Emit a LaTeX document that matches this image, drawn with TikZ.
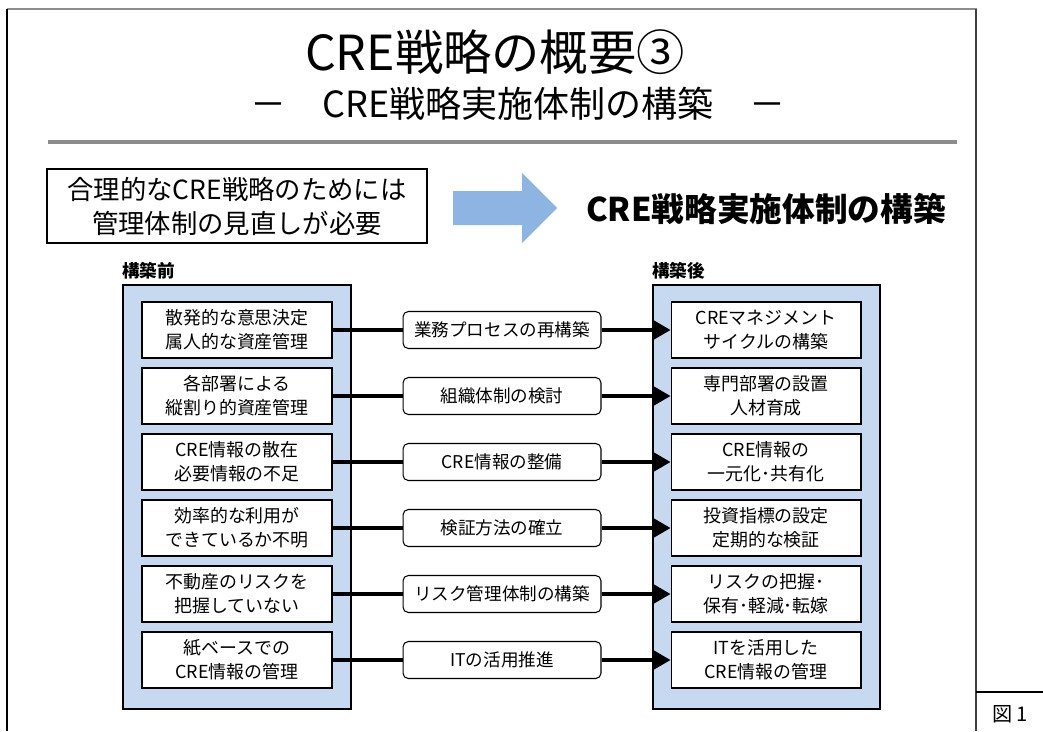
\documentclass[tikz,border=0pt]{standalone}
\usepackage{fontspec}
\setmainfont{Noto Sans CJK JP}
\usetikzlibrary{arrows.meta}
\definecolor{panelblue}{HTML}{C6D9F1}
\definecolor{arrowblue}{HTML}{8DB4E2}
\tikzset{
	leftbox/.style={draw, fill=white, line width=0.6pt, minimum width=3.8cm, minimum height=1.12cm, inner sep=0pt, align=center, font=\fontsize{10.2}{13.6}\selectfont},
	midbox/.style={draw, fill=white, rounded corners=3pt, line width=0.6pt, minimum width=3.96cm, minimum height=0.74cm, inner sep=0pt, font=\fontsize{10}{12}\selectfont},
	conn/.style={line width=1.9pt},
	connarrow/.style={line width=1.9pt, -{Triangle[length=0.36cm, width=0.4cm]}}
}

\begin{document}
\begin{tikzpicture}[x=0.02cm, y=-0.02cm]
		%%%%% START %%%%%
		\useasboundingbox (0, 0) rectangle (1043, 731);
		
		% frame
		\draw[line width=1.4pt, color=black!45] (7, 9) -- (977, 9);
		\draw[line width=1.2pt] (7, 9) -- (7, 731);
		\draw[line width=1pt, color=black!75] (976, 9) -- (976, 731);
		\draw[line width=0.7pt] (976, 692) -- (1043, 692);
		\node (fig) at (1010, 714) {\fontsize{11.5}{14}\selectfont 図 1};
		
		% heading
		\node (title) at (495, 52) {\fontsize{27.5}{32}\selectfont CRE戦略の概要③};
		\node (subtitle) at (518, 104) {\fontsize{20.5}{24}\selectfont －　CRE戦略実施体制の構築　－};
		\draw[line width=2.3pt, color=black!45] (48, 142) -- (957, 142);
		
		\node[draw, line width=0.7pt, minimum width=7.6cm, minimum height=1.48cm, align=center, font=\fontsize{15}{19.3}\selectfont] (need) at (237, 206) {合理的なCRE戦略のためには\\管理体制の見直しが必要};
		\fill[arrowblue] (453, 191) -- (522, 191) -- (522, 173) -- (557, 208) -- (522, 243) -- (522, 225) -- (453, 225) -- cycle;
		\node[font=\bfseries\fontsize{18.6}{22}\selectfont] (goal) at (766, 209) {CRE戦略実施体制の構築};
		
		% panels
		\node[anchor=west, inner sep=0pt, font=\bfseries\fontsize{10}{12}\selectfont] (before) at (122, 271) {構築前};
		\node[anchor=west, inner sep=0pt, font=\bfseries\fontsize{10}{12}\selectfont] (after) at (652, 271) {構築後};
		\draw[fill=panelblue, line width=0.8pt] (123, 285) rectangle (351, 709);
		\draw[fill=panelblue, line width=0.8pt] (653, 285) rectangle (880, 709);
		
		\node[leftbox] (b1) at (237, 330) {散発的な意思決定\\属人的な資産管理};
		\node[leftbox] (b2) at (237, 396) {各部署による\\縦割り的資産管理};
		\node[leftbox] (b3) at (237, 462) {CRE情報の散在\\必要情報の不足};
		\node[leftbox] (b4) at (237, 528) {効率的な利用が\\できているか不明};
		\node[leftbox] (b5) at (237, 594) {不動産のリスクを\\把握していない};
		\node[leftbox] (b6) at (237, 660) {紙ベースでの\\CRE情報の管理};
		
		\node[midbox] (m1) at (502, 330) {業務プロセスの再構築};
		\node[midbox] (m2) at (502, 396) {組織体制の検討};
		\node[midbox] (m3) at (502, 462) {CRE情報の整備};
		\node[midbox] (m4) at (502, 528) {検証方法の確立};
		\node[midbox] (m5) at (502, 594) {リスク管理体制の構築};
		\node[midbox] (m6) at (502, 660) {ITの活用推進};
		
		\node[leftbox] (a1) at (766, 330) {CREマネジメント\\サイクルの構築};
		\node[leftbox] (a2) at (766, 396) {専門部署の設置\\人材育成};
		\node[leftbox] (a3) at (766, 462) {CRE情報の\\一元化･共有化};
		\node[leftbox] (a4) at (766, 528) {投資指標の設定\\定期的な検証};
		\node[leftbox] (a5) at (766, 594) {リスクの把握･\\保有･軽減･転嫁};
		\node[leftbox] (a6) at (766, 660) {ITを活用した\\CRE情報の管理};
		
		% connectors
		\draw[conn] (b1.east) -- (m1.west);
		\draw[conn] (b2.east) -- (m2.west);
		\draw[conn] (b3.east) -- (m3.west);
		\draw[conn] (b4.east) -- (m4.west);
		\draw[conn] (b5.east) -- (m5.west);
		\draw[conn] (b6.east) -- (m6.west);
		\draw[connarrow] (m1.east) -- (a1.west);
		\draw[connarrow] (m2.east) -- (a2.west);
		\draw[connarrow] (m3.east) -- (a3.west);
		\draw[connarrow] (m4.east) -- (a4.west);
		\draw[connarrow] (m5.east) -- (a5.west);
		\draw[connarrow] (m6.east) -- (a6.west);
		
		%%%%% END %%%%%
	\end{tikzpicture}
\end{document}
